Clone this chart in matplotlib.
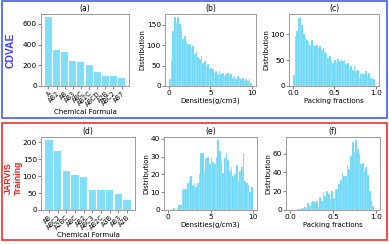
import numpy as np
import matplotlib
matplotlib.use("Agg")
import matplotlib.pyplot as plt
from matplotlib.patches import Rectangle

# -----------------------------
# Data
# -----------------------------
cdvae_formulas = ["A", "AB2", "AB", "AB3", "ABC", "AB2C", "ABCD", "A2B", "ABC2", "AB7"]
cdvae_counts = [663, 350, 327, 237, 228, 202, 135, 100, 93, 74]

jarvis_formulas = ["AB", "ABC2", "A2BC", "ABC", "AB2", "ABC3", "AB2C", "A3B", "AB3", "A2B"]
jarvis_counts = [205, 173, 115, 102, 98, 60, 60, 59, 48, 30]

# density histograms, 50 bins over 0..10
density_edges = np.linspace(0, 10, 51)
cdvae_density = [16, 61, 135, 168, 156, 168, 152, 139, 115, 123,
                 107, 102, 102, 93, 98, 78, 86, 70, 66, 74,
                 57, 61, 49, 53, 41, 45, 41, 33, 37, 29,
                 37, 29, 33, 25, 29, 33, 25, 29, 20, 25,
                 16, 25, 20, 16, 20, 12, 16, 12, 16, 8]
jarvis_density = [0, 0, 0, 1, 0, 1, 3, 3, 11, 12,
                  12, 15, 17, 19, 14, 15, 13, 15, 20, 32,
                  32, 22, 29, 30, 26, 30, 27, 26, 30, 39,
                  33, 27, 21, 29, 32, 28, 22, 24, 19, 20,
                  25, 16, 22, 24, 32, 16, 15, 14, 10, 13]

# packing fraction histograms
cdvae_pack_edges = np.linspace(0, 0.99, 51)
cdvae_packing = [21, 97, 106, 131, 133, 119, 100, 94, 90, 88,
                 80, 90, 80, 77, 80, 74, 77, 69, 73, 65,
                 63, 55, 58, 48, 45, 50, 47, 52, 48, 52,
                 48, 50, 42, 45, 35, 39, 32, 39, 29, 32,
                 16, 23, 26, 23, 29, 19, 26, 16, 16, 14]
jarvis_pack_edges = np.linspace(0, 1.0, 51)
jarvis_packing = [0, 0, 0, 0, 1, 1, 2, 2, 3, 2,
                  7, 4, 9, 10, 9, 10, 3, 14, 10, 19,
                  15, 20, 17, 12, 20, 13, 22, 22, 28, 32,
                  39, 36, 36, 48, 44, 57, 72, 62, 74, 65,
                  60, 49, 50, 41, 46, 37, 20, 10, 4, 0]

bar_color = "#80dff7"
hist_color = "#5fd5f7"
spine_color = "#9a9a9a"
fs = 5.3


def style_axes(ax):
    for s in ax.spines.values():
        s.set_color(spine_color)
        s.set_linewidth(0.7)
    ax.tick_params(labelsize=fs, length=2, width=0.5, pad=1, color="#555555")


def bar_panel(ax, labels, values, title, yticks):
    ax.bar(labels, values, color=bar_color, width=0.85)
    ax.set_title(title, fontsize=5.5, pad=2)
    ax.set_yticks(yticks)
    ax.set_xlabel("Chemical Formula", fontsize=5, labelpad=1)
    ax.set_xticks(range(len(labels)))
    ax.set_xticklabels(labels, rotation=45, ha="right", rotation_mode="anchor")
    style_axes(ax)
    ax.tick_params(axis="x", labelsize=4.8)


def hist_panel(ax, edges, counts, title, xlabel, xticks, yticks):
    centers = (edges[:-1] + edges[1:]) / 2
    ax.hist(centers, bins=edges, weights=counts, color=hist_color,
            edgecolor="white", linewidth=0.15)
    ax.set_title(title, fontsize=5.5, pad=2)
    ax.set_xticks(xticks)
    ax.set_yticks(yticks)
    ax.set_xlabel(xlabel, fontsize=5, labelpad=1)
    ax.set_ylabel("Distribution", fontsize=5, labelpad=1)
    style_axes(ax)


W, H = 389, 244
fig = plt.figure(figsize=(W / 100, H / 100), dpi=100)


def px_axes(left, top, width, height):
    return fig.add_axes([left / W, (H - top - height) / H, width / W, height / H])


# -----------------------------
# Top row: CDVAE
# -----------------------------
ax = px_axes(41, 14, 88, 72)
bar_panel(ax, cdvae_formulas, cdvae_counts, "(a)", [0, 200, 400, 600])

ax = px_axes(165, 14, 91, 72)
hist_panel(ax, density_edges, cdvae_density, "(b)", "Densities(g/cm3)",
           [0, 5, 10], [0, 50, 100, 150])

ax = px_axes(289, 14, 90, 72)
hist_panel(ax, cdvae_pack_edges, cdvae_packing, "(c)", "Packing fractions",
           [0.0, 0.5, 1.0], [0, 50, 100])

# -----------------------------
# Bottom row: JARVIS training
# -----------------------------
ax = px_axes(41, 137, 94, 73)
bar_panel(ax, jarvis_formulas, jarvis_counts, "(d)", [0, 50, 100, 150, 200])

ax = px_axes(164, 137, 93, 73)
hist_panel(ax, density_edges, jarvis_density, "(e)", "Densities(g/cm3)",
           [0, 5, 10], [0, 10, 20, 30, 40])

ax = px_axes(286, 137, 94, 73)
hist_panel(ax, jarvis_pack_edges, jarvis_packing, "(f)", "Packing fractions",
           [0.0, 0.5, 1.0], [0, 20, 40, 60])

# frames and row labels
fig.patches.append(Rectangle((1.5 / W, (H - 118) / H), 385.5 / W, 116.5 / H,
                             transform=fig.transFigure, fill=False,
                             edgecolor="#3f5fef", linewidth=1.2))
fig.patches.append(Rectangle((1.5 / W, (H - 240) / H), 385.5 / W, 117 / H,
                             transform=fig.transFigure, fill=False,
                             edgecolor="#ee3030", linewidth=1.2))

fig.text(11 / W, (H - 50) / H, "CDVAE", rotation=90, color="#3f3fff",
         fontsize=7.5, fontweight="bold", family="Liberation Sans",
         ha="center", va="center")
fig.text(13.5 / W, (H - 178) / H, "JARVIS\nTraining", rotation=90, color="#ee2020",
         fontsize=6.3, fontweight="bold", family="Liberation Sans",
         ha="center", va="center", linespacing=1.1, multialignment="center")

plt.savefig("out.png", dpi=100)
plt.close()
